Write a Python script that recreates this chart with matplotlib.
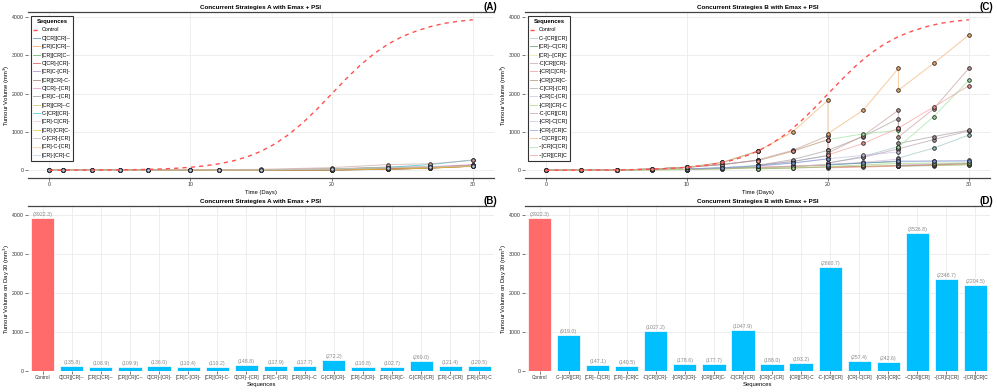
import matplotlib
matplotlib.use("Agg")
import matplotlib.pyplot as plt

plt.rcParams['font.family'] = ['Liberation Sans', 'DejaVu Sans']

# control growth, one value per day
days = list(range(31))
control_curve = [2, 2.4, 3.6, 5.2, 7.7, 11.4, 16.9, 24.9, 36.5, 53.8, 79, 116, 169, 243, 350,
                 496, 692, 942, 1252, 1606, 1990, 2373, 2730, 3038, 3289, 3485, 3630, 3745,
                 3830, 3885, 3922.3]

# strategy set A
seq_a = ["C[CR][CR]--", "[CR]C[CR]--", "[CR][CR]C--", "C[CR]-[CR]-", "[CR]C-[CR]-",
         "[CR][CR]-C-", "C[CR]--[CR]", "[CR]C--[CR]", "[CR][CR]--C", "C-[CR][CR]-",
         "[CR]-C[CR]-", "[CR]-[CR]C-", "C-[CR]-[CR]", "[CR]-C-[CR]", "[CR]-[CR]-C"]
day30_a = [3922.3, 135.8, 108.9, 109.9, 136.0, 110.4, 110.2, 148.8, 117.9, 117.7,
           272.2, 110.8, 102.7, 260.0, 121.4, 120.5]
t_a = [0, 1, 3, 5, 7, 10, 12, 15, 20, 24, 27, 30]
vol_a = [
    [2, 2.4, 3.6, 11, 9, 8, 6, 5, 12, 35, 75, 135.8],
    [2, 2.4, 3.6, 5, 6, 7, 5, 4, 10, 28, 60, 108.9],
    [2, 2.4, 3.6, 5, 6, 4, 5, 5, 10, 28, 60, 109.9],
    [2, 2.4, 3.6, 11, 9, 8, 10, 14, 12, 35, 75, 136.0],
    [2, 2.4, 3.6, 5, 6, 7, 9, 12, 10, 28, 60, 110.4],
    [2, 2.4, 3.6, 5, 6, 4, 6, 9, 10, 28, 60, 110.2],
    [2, 2.4, 3.6, 11, 9, 8, 10, 16, 40, 85, 95, 148.8],
    [2, 2.4, 3.6, 5, 6, 7, 9, 13, 32, 70, 75, 117.9],
    [2, 2.4, 3.6, 5, 6, 4, 6, 10, 30, 70, 90, 117.7],
    [2, 2.4, 3.6, 11, 14, 20, 18, 15, 30, 80, 150, 272.2],
    [2, 2.4, 3.6, 5, 8, 12, 11, 10, 12, 30, 62, 110.8],
    [2, 2.4, 3.6, 5, 8, 12, 8, 9, 11, 27, 56, 102.7],
    [2, 2.4, 3.6, 11, 14, 20, 18, 26, 70, 150, 170, 260.0],
    [2, 2.4, 3.6, 5, 8, 12, 11, 14, 35, 72, 80, 121.4],
    [2, 2.4, 3.6, 5, 8, 12, 8, 12, 30, 70, 95, 120.5],
]
colors_a = ["#1f77b4", "#ff7f0e", "#2ca02c", "#d62728", "#9467bd", "#8c564b", "#e377c2",
            "#7f7f7f", "#bcbd22", "#17becf", "#f7b6d2", "#e6b800", "#c49c94", "#ffbb78",
            "#aec7e8"]

# strategy set B
seq_b = ["C--[CR][CR]", "[CR]--C[CR]", "[CR]--[CR]C", "-C[CR][CR]-", "-[CR]C[CR]-",
         "-[CR][CR]C-", "-C[CR]-[CR]", "-[CR]C-[CR]", "-[CR][CR]-C", "-C-[CR][CR]",
         "-[CR]-C[CR]", "-[CR]-[CR]C", "--C[CR][CR]", "--[CR]C[CR]", "--[CR][CR]C"]
day30_b = [3922.3, 919.0, 147.1, 140.5, 1027.2, 178.6, 177.7, 1047.9, 188.0, 193.2,
           2660.7, 257.4, 242.6, 3526.8, 2348.7, 2204.5]
t_b = [0, 2.5, 5, 5, 7.5, 10, 10, 12.5, 15, 15, 17.5, 20, 20, 22.5, 25, 25, 27.5, 30]
vol_b = [
    [2, 4, 11, 11, 20, 38, 38, 70, 130, 130, 230, 390, 190, 360, 620, 320, 580, 919.0],
    [2, 4, 11, 5, 10, 20, 20, 38, 65, 65, 100, 150, 150, 190, 230, 110, 125, 147.1],
    [2, 4, 11, 5, 10, 20, 20, 38, 65, 65, 100, 150, 75, 100, 125, 125, 133, 140.5],
    [2, 4, 11, 11, 30, 79, 79, 150, 260, 130, 230, 380, 190, 340, 560, 560, 800, 1027.2],
    [2, 4, 11, 11, 30, 79, 35, 55, 80, 80, 105, 130, 65, 85, 110, 110, 140, 178.6],
    [2, 4, 11, 11, 30, 79, 35, 55, 80, 40, 60, 85, 85, 105, 125, 125, 150, 177.7],
    [2, 4, 11, 11, 30, 79, 79, 150, 260, 130, 280, 520, 520, 880, 1350, 700, 880, 1047.9],
    [2, 4, 11, 11, 30, 79, 35, 55, 80, 80, 110, 150, 150, 210, 290, 140, 165, 188.0],
    [2, 4, 11, 11, 30, 79, 35, 55, 80, 40, 65, 100, 100, 140, 180, 180, 188, 193.2],
    [2, 4, 11, 11, 30, 79, 79, 150, 270, 270, 520, 900, 450, 900, 1567, 870, 1600, 2660.7],
    [2, 4, 11, 11, 30, 79, 35, 65, 115, 115, 190, 300, 300, 390, 480, 220, 240, 257.4],
    [2, 4, 11, 11, 30, 79, 35, 65, 115, 115, 190, 300, 140, 190, 240, 240, 242, 242.6],
    [2, 4, 11, 11, 30, 79, 79, 205, 496, 496, 1000, 1827, 958, 1567, 2655, 2089, 2785, 3526.8],
    [2, 4, 11, 11, 30, 79, 79, 205, 496, 250, 500, 800, 800, 950, 1044, 610, 1400, 2348.7],
    [2, 4, 11, 11, 30, 79, 79, 205, 496, 250, 500, 800, 400, 700, 1100, 1100, 1650, 2204.5],
]
colors_b = ["#8fbcbc", "#3a8a3a", "#e8e08a", "#b090a8", "#f08080", "#a07850", "#a09090",
            "#c8b0d8", "#90d070", "#c09090", "#c0b8e0", "#7090d0", "#f0a860", "#90e090",
            "#f09090"]

W, H = 997, 392
fig = plt.figure(figsize=(W / 100, H / 100), dpi=100)


def add_ax(left, right, top, bottom):
    return fig.add_axes([left / W, 1 - bottom / H, (right - left) / W, (bottom - top) / H])


def style(ax, title, bottom_spine):
    ax.set_facecolor("white")
    ax.grid(True, color="#ebebeb", lw=0.6)
    ax.set_axisbelow(True)
    for s in ["left", "right"]:
        ax.spines[s].set_visible(False)
    ax.spines["top"].set_color("#444444")
    ax.spines["top"].set_linewidth(0.9)
    ax.spines["bottom"].set_visible(bottom_spine)
    ax.spines["bottom"].set_color("#444444")
    ax.spines["bottom"].set_linewidth(0.9)
    ax.tick_params(labelsize=3.8, length=2, width=0.5, color="#444444", pad=1,
                   labelcolor="#333333")
    ax.set_title(title, fontsize=4.5, fontweight="bold", pad=2)
    ax.yaxis.set_label_coords(-16 / 466, 0.5)


def line_panel(ax, title, t, vols, seqs, colors):
    ax.plot(days, control_curve, color="#ff5050", lw=1.0, ls=(0, (3, 3)), label="Control",
            zorder=4)
    for v, name, c in zip(vols, seqs, colors):
        ax.plot(t, v, color=c, lw=0.7, alpha=0.6, label=name, zorder=2)
    for v, c in zip(vols, colors):
        ax.plot(t, v, ls="none", marker="o", ms=2.6, mfc=c, mec="#222222", mew=0.6, zorder=3)
    ax.set_xlim(-1.5, 31.5)
    ax.set_ylim(-200, 4125)
    ax.set_xticks([0, 10, 20, 30])
    ax.set_yticks([0, 1000, 2000, 3000, 4000])
    ax.set_xlabel("Time (Days)", fontsize=4.2, labelpad=2)
    ax.set_ylabel("Tumour Volume (mm$^3$)", fontsize=4.2)
    style(ax, title, True)
    leg = ax.legend(title="Sequences", loc="upper left", bbox_to_anchor=(0.0, 0.99),
                    fontsize=3.9, title_fontsize=4.2, frameon=True, fancybox=False,
                    edgecolor="#333333", framealpha=1, handlelength=1.2, labelspacing=0.62,
                    borderpad=0.5, handletextpad=0.35)
    leg.get_title().set_fontweight("bold")
    leg.get_frame().set_linewidth(0.8)


def bar_panel(ax, title, seqs, vals):
    names = ["Control"] + seqs
    x = list(range(len(names)))
    cols = ["#ff6b6b"] + ["#00bfff"] * len(seqs)
    ax.bar(x, vals, width=0.8, color=cols, edgecolor="white", lw=0.5, zorder=2)
    for xi, v in zip(x, vals):
        ax.text(xi, v + 25, f"({v:.1f})", ha="center", va="bottom", fontsize=3.8,
                color="#888888")
    ax.set_xlim(-0.5, len(names) - 0.5)
    ax.set_ylim(0, 4225)
    ax.set_xticks(x)
    ax.set_xticklabels(names)
    ax.set_yticks([0, 1000, 2000, 3000, 4000])
    ax.set_xlabel("Sequences", fontsize=4.2, labelpad=1.5)
    ax.set_ylabel("Tumour Volume on Day 30 (mm$^3$)", fontsize=4.2)
    style(ax, title, False)
    ax.tick_params(axis="x", labelsize=3.4)


ax_a = add_ax(28, 494, 12, 178)
line_panel(ax_a, "Concurrent Strategies A with Emax + PSI", t_a, vol_a, seq_a, colors_a)
ax_b = add_ax(28, 494, 206, 371)
bar_panel(ax_b, "Concurrent Strategies A with Emax + PSI", seq_a, day30_a)
ax_c = add_ax(525, 990, 12, 178)
line_panel(ax_c, "Concurrent Strategies B with Emax + PSI", t_b, vol_b, seq_b, colors_b)
ax_d = add_ax(525, 990, 206, 371)
bar_panel(ax_d, "Concurrent Strategies B with Emax + PSI", seq_b, day30_b)

for lab, px, py in [("(A)", 490, 7), ("(B)", 490, 201), ("(C)", 986, 7), ("(D)", 986, 201)]:
    fig.text(px / W, 1 - py / H, lab, fontsize=7, fontweight="bold", ha="center", va="center")

fig.savefig("out.png", dpi=100)
